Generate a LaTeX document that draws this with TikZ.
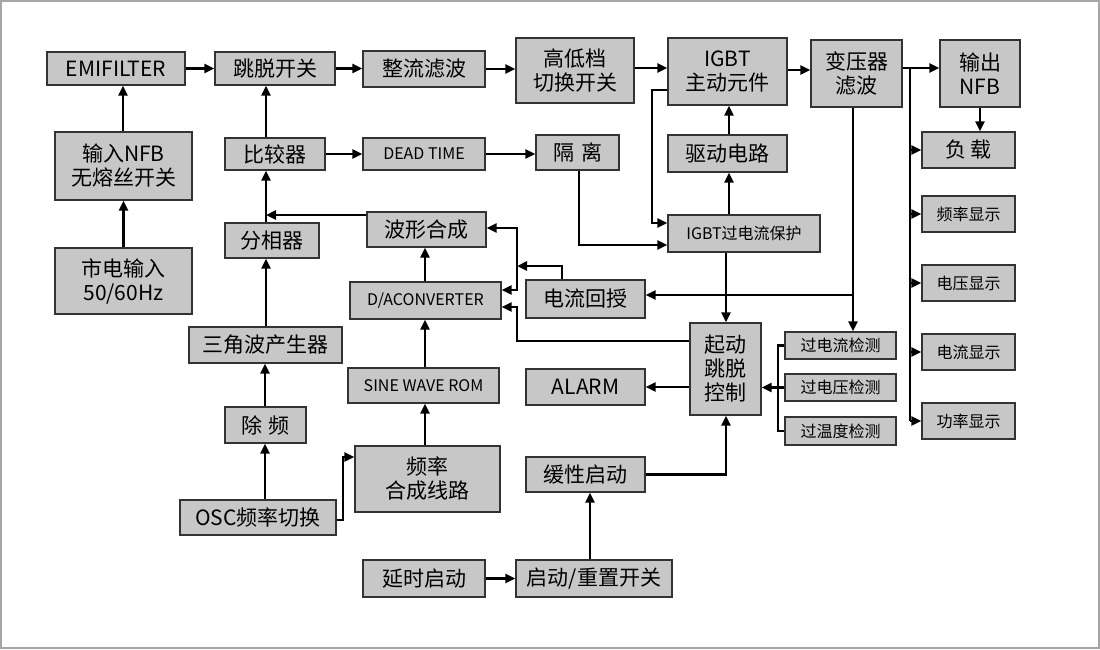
\documentclass[tikz,border=0pt]{standalone}
\usepackage{fontspec}
\setmainfont{Noto Sans CJK SC}
\usetikzlibrary{arrows.meta}
\tikzset{
 bx/.style={draw=black!80,line width=1.2pt,fill=black!22,inner sep=0pt,font=\fontsize{21}{24}\selectfont,align=center},
 sm/.style={font=\fontsize{16}{19}\selectfont},
 ar/.style={line width=2.6pt,-{Triangle[length=10pt,width=9pt]}},
 ln/.style={line width=2.6pt},
}
\newcommand\bx[7][]{\node[bx,#1,minimum width={(#5)-(#3)},minimum height={(#6)-(#4)}] (#2) at ({((#3)+(#5))/2},{((#4)+(#6))/2}) {#7};}
\begin{document}
\begin{tikzpicture}[x=1pt,y=-1pt]
\useasboundingbox (0,0) rectangle (1100,649);
\draw[black!35,line width=2pt] (1,1) rectangle (1099,648);
\bx{emi}{47}{52}{185}{85}{EMIFILTER}
\bx{tt}{215}{52}{335}{85}{跳脱开关}
\bx{zl}{363}{51}{485}{87}{整流滤波}
\bx{gd}{516}{38}{634}{103}{高低档\\切换开关}
\bx{igbt}{668}{38}{787}{105}{IGBT\\主动元件}
\bx{byq}{811}{40}{902}{107}{变压器\\滤波}
\bx{nfb}{940}{40}{1020}{107}{输出\\NFB}
\bx{fz}{922}{132}{1015}{168}{负\,载}
\bx[sm]{plxs}{922}{196}{1015}{232}{频率显示}
\bx[sm]{dyxs}{922}{265}{1015}{301}{电压显示}
\bx[sm]{dlxs}{922}{334}{1015}{370}{电流显示}
\bx[sm]{glxs}{922}{403}{1015}{439}{功率显示}
\bx{innfb}{55}{132}{192}{200}{输入NFB\\无熔丝开关}
\bx{sd}{55}{248}{192}{314}{市电输入\\50/60Hz}
\bx{bjq}{225}{138}{325}{170}{比较器}
\bx[sm]{dt}{363}{138}{485}{170}{DEAD TIME}
\bx{gl}{536}{135}{619}{170}{隔\,\,离}
\bx{qd}{668}{135}{787}{172}{驱动电路}
\bx[sm]{oc}{668}{215}{820}{252}{IGBT过电流保护}
\bx{fxq}{225}{223}{319}{258}{分相器}
\bx{bx}{367}{212}{486}{247}{波形合成}
\bx[sm]{da}{350}{282}{501}{319}{D/ACONVERTER}
\bx{dlht}{526}{280}{645}{318}{电流回授}
\bx{sjb}{189}{327}{342}{363}{三角波产生器}
\bx[sm]{rom}{348}{368}{499}{403}{SINE WAVE ROM}
\bx{alarm}{526}{369}{645}{405}{ALARM}
\bx{qdtt}{690}{323}{761}{415}{起动\\跳脱\\控制}
\bx[sm]{gdl}{785}{332}{896}{359}{过电流检测}
\bx[sm]{gdy}{785}{374}{896}{401}{过电压检测}
\bx[sm]{gwd}{785}{417}{896}{445}{过温度检测}
\bx{cp}{225}{407}{306}{443}{除\,\,频}
\bx{plhc}{355}{446}{500}{512}{频率\\合成线路}
\bx{hx}{526}{457}{645}{492}{缓性启动}
\bx{osc}{180}{500}{336}{535}{OSC频率切换}
\bx{ys}{363}{560}{485}{597}{延时启动}
\bx{cz}{516}{560}{672}{597}{启动/重置开关}
% main chain
\draw[ar] (emi.east) -- (emi.east -| tt.west);
\draw[ar] (tt.east) -- (tt.east -| zl.west);
\draw[ar] (zl.east) -- (zl.east -| gd.west);
\draw[ar] (gd.east |- 0,68) -- (igbt.west |- 0,68);
\draw[ar] (igbt.east |- 0,70) -- (byq.west |- 0,70);
\draw[ar] (byq.east |- 0,68) -- (nfb.west |- 0,68);
\draw[ar] (nfb.south) -- (fz.north -| nfb.south);
\coordinate (bus) at (910,68);
\draw[ln] (bus) -- (910,421);
\foreach \t in {fz,plxs,dyxs,dlxs,glxs}{\draw[ar] (910,0 |- \t.west) -- (\t.west);}
% left
\draw[ar] (sd.north) -- (innfb.south);
\draw[ar] (innfb.north -| 123,0) -- (emi.south -| 123,0);
\draw[ar] (bjq.north -| 266,0) -- (tt.south -| 266,0);
\draw[ar] (bjq.east) -- (dt.west);
\draw[ar] (dt.east) -- (dt.east -| gl.west);
\draw[ar] (fxq.north -| 266,0) -- (bjq.south -| 266,0);
\coordinate (fj) at (266,215);
\draw[ar] (bx.west |- fj) -- (fj);
\draw[ar] (sjb.north -| 266,0) -- (fxq.south -| 266,0);
\draw[ar] (cp.north -| 265,0) -- (sjb.south -| 265,0);
\draw[ar] (osc.north -| 265,0) -- (cp.south -| 265,0);
\draw[ar] (osc.east |- 0,520) -| (343,457) -- (plhc.west |- 0,457);
\draw[ar] (plhc.north -| 425,0) -- (rom.south -| 425,0);
\draw[ar] (rom.north -| 425,0) -- (da.south -| 425,0);
\draw[ar] (da.north -| 425,0) -- (bx.south -| 425,0);
% feedback
\draw[ar] (517,290) |- (bx.east |- 0,228);
\draw[ar] (517,228) |- (da.east |- 0,290);
\coordinate (fb) at (517,266);
\draw[ar] (dlht.north -| 562,0) |- (fb);
\draw[ar] (qdtt.west |- 0,341) -| (517,307) -- (da.east |- 0,307);
\draw[ar] (qdtt.west |- alarm.east) -- (alarm.east);
% IGBT region
\draw[ar] (gl.south -| 579,0) |- (oc.west |- 0,245);
\draw[ar] (igbt.west |- 0,90) -| (652,223) -- (oc.west |- 0,223);
\draw[ar] (oc.north -| 729,0) -- (qd.south -| 729,0);
\draw[ar] (qd.north -| 729,0) -- (igbt.south -| 729,0);
\draw[ar] (oc.south -| 726,0) -- (qdtt.north -| 726,0);
\draw[ar] (byq.south -| 853,0) -- (gdl.north -| 853,0);
\draw[ar] (853,295) -- (dlht.east |- 0,295);
% detection bracket
\draw[ln] (gdl.west) -| (778,431) -- (gwd.west);
\draw[ar] (gdy.west) -- (qdtt.east |- gdy.west);
\draw[ar] (hx.east) -| (qdtt.south -| 726,0);
\draw[ar] (cz.north -| 590,0) -- (hx.south -| 590,0);
\draw[ar] (ys.east) -- (cz.west);
\end{tikzpicture}
\end{document}
